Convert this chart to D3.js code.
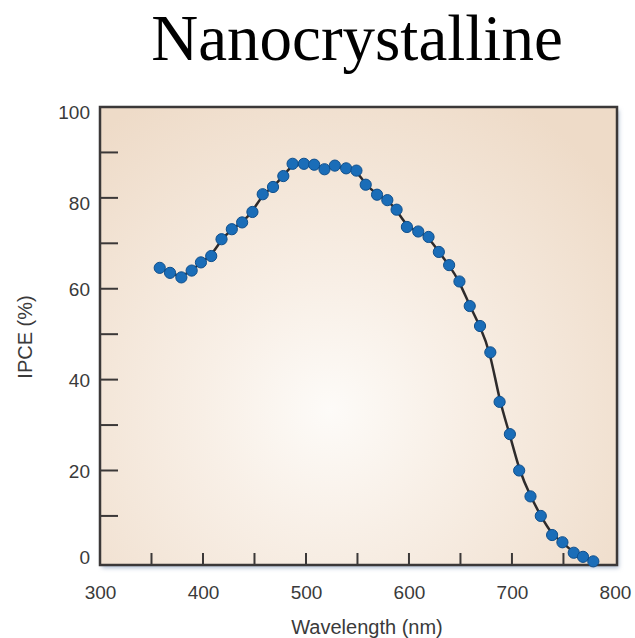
<!DOCTYPE html>
<html>
<head>
<meta charset="utf-8">
<script src="https://cdn.jsdelivr.net/npm/d3@7"></script>
<style>
  html, body { margin: 0; padding: 0; background: #ffffff; }
  svg { display: block; }
</style>
</head>
<body>
<svg id="chart" width="635" height="638"></svg>
<script>
const title = "Nanocrystalline";
const xLabel = "Wavelength (nm)";
const yLabel = "IPCE (%)";

const wavelengths = [358, 368, 379, 389, 398, 408, 418, 428, 438, 448, 458, 468, 478, 487,
  498, 508, 518, 528, 539, 549, 558, 569, 579, 588, 598, 609, 619, 629, 639, 649,
  659, 669, 679, 688, 698, 707, 718, 728, 739, 749, 760, 769, 779];
const ipce = [64.6, 63.5, 62.5, 64.0, 65.8, 67.2, 70.9, 73.1, 74.6, 76.9, 80.8, 82.4, 84.8, 87.5,
  87.5, 87.3, 86.3, 87.1, 86.5, 86.0, 82.9, 80.7, 79.5, 77.4, 73.6, 72.6, 71.4, 68.1, 65.2, 61.6,
  56.2, 51.8, 46.0, 35.1, 28.0, 20.0, 14.3, 10.0, 5.8, 4.2, 1.9, 1.0, 0.0];

const xTickLabels = [300, 400, 500, 600, 700, 800];
const xMinorTicks = [350, 400, 450, 500, 550, 600, 650, 700, 750];
const yTickLabels = [0, 20, 40, 60, 80, 100];
const yMinorTicks = [10, 20, 30, 40, 50, 60, 70, 80, 90];

const data = wavelengths.map((w, i) => ({ w, v: ipce[i] }));

const svg = d3.select("#chart");
const pLeft = 100, pRight = 617, pTop = 107, pBottom = 565;

const x = d3.scaleLinear().domain([300, 802]).range([pLeft, pRight]);
const y = d3.scaleLinear().domain([-0.8, 100]).range([pBottom, pTop]);

const defs = svg.append("defs");
const grad = defs.append("radialGradient")
  .attr("id", "bg").attr("gradientUnits", "userSpaceOnUse")
  .attr("cx", 330).attr("cy", 410).attr("r", 360);
grad.append("stop").attr("offset", "0%").attr("stop-color", "#fdfbf8");
grad.append("stop").attr("offset", "35%").attr("stop-color", "#f8efe6");
grad.append("stop").attr("offset", "100%").attr("stop-color", "#eedbc8");

const shadow = defs.append("filter").attr("id", "shadow")
  .attr("x", "-5%").attr("y", "-5%").attr("width", "115%").attr("height", "115%");
shadow.append("feDropShadow").attr("dx", 2).attr("dy", 3).attr("stdDeviation", 2)
  .attr("flood-color", "#7f95b8").attr("flood-opacity", 0.6);

// Title
svg.append("text")
  .attr("x", 357).attr("y", 60)
  .attr("text-anchor", "middle")
  .attr("font-family", "'Liberation Serif', 'Times New Roman', serif")
  .attr("font-size", 65)
  .attr("fill", "#000")
  .text(title);

// Plot background
svg.append("rect")
  .attr("x", pLeft).attr("y", pTop)
  .attr("width", pRight - pLeft).attr("height", pBottom - pTop)
  .attr("fill", "url(#bg)")
  .attr("filter", "url(#shadow)");

// Ticks (inward)
const axisColor = "#3b3838";
svg.append("g").selectAll("line").data(yMinorTicks).join("line")
  .attr("x1", pLeft).attr("x2", pLeft + 18)
  .attr("y1", d => y(d)).attr("y2", d => y(d))
  .attr("stroke", axisColor).attr("stroke-width", 2);

svg.append("g").selectAll("line").data(xMinorTicks).join("line")
  .attr("x1", d => x(d)).attr("x2", d => x(d))
  .attr("y1", pBottom).attr("y2", pBottom - 12)
  .attr("stroke", axisColor).attr("stroke-width", 2);

// Frame
svg.append("rect")
  .attr("x", pLeft).attr("y", pTop)
  .attr("width", pRight - pLeft).attr("height", pBottom - pTop)
  .attr("fill", "none")
  .attr("stroke", axisColor).attr("stroke-width", 2.5);

// Tick labels
const labelFont = "'Liberation Sans', Arial, Helvetica, sans-serif";
const yAxis = d3.axisLeft(y).tickValues(yTickLabels).tickSize(0).tickPadding(10);
const gy = svg.append("g").attr("transform", `translate(${pLeft},0)`).call(yAxis);
gy.select(".domain").remove();
gy.selectAll("text")
  .attr("font-family", labelFont).attr("font-size", 19).attr("fill", "#3a3a3a")
  .attr("dy", d => d === 0 ? "0.1em" : (d >= 80 ? "0.6em" : "0.36em"));

const xAxis = d3.axisBottom(x).tickValues(xTickLabels).tickSize(0).tickPadding(21);
const gx = svg.append("g").attr("transform", `translate(0,${pBottom})`).call(xAxis);
gx.select(".domain").remove();
gx.selectAll("text")
  .attr("font-family", labelFont).attr("font-size", 19).attr("fill", "#3a3a3a");

// Axis titles
svg.append("text")
  .attr("x", 367).attr("y", 634)
  .attr("text-anchor", "middle")
  .attr("font-family", labelFont).attr("font-size", 20).attr("fill", "#3a3a3a")
  .text(xLabel);

svg.append("text")
  .attr("transform", "translate(32,337) rotate(-90)")
  .attr("text-anchor", "middle")
  .attr("font-family", labelFont).attr("font-size", 20).attr("fill", "#3a3a3a")
  .text(yLabel);

// Smoothed curve
const line = d3.line().x(d => x(d.w)).y(d => y(d.v)).curve(d3.curveBasis);
svg.append("path")
  .datum(data)
  .attr("d", line)
  .attr("fill", "none")
  .attr("stroke", "#2e2b2b")
  .attr("stroke-width", 2.5);

// Points
svg.append("g").selectAll("circle").data(data).join("circle")
  .attr("cx", d => x(d.w)).attr("cy", d => y(d.v))
  .attr("r", 5.6)
  .attr("fill", "#1a6db8")
  .attr("stroke", "#0f4f8c")
  .attr("stroke-width", 1);
</script>
</body>
</html>
